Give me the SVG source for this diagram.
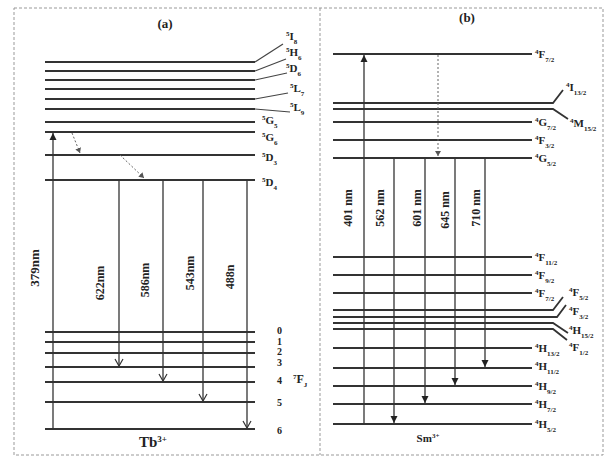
<svg xmlns="http://www.w3.org/2000/svg" width="609" height="465" viewBox="0 0 609 465">
<defs>
<style>
.lv{stroke:#333;stroke-width:1.8;fill:none}
.vt{stroke:#333;stroke-width:1.3;fill:none}
.dg{stroke:#444;stroke-width:1.2;fill:none}
.ds{stroke:#666;stroke-width:1;stroke-dasharray:2,2;fill:none}
.bd{stroke:#999;stroke-width:1;stroke-dasharray:3,2;fill:none}
text{font-family:"Liberation Serif","Times New Roman",serif;font-weight:bold;fill:#222}
.lb{font-size:11px}
.wl{font-size:12px}
.s{font-size:7px}
.num{font-size:10px}
</style>
<marker id="chev" markerWidth="10" markerHeight="10" refX="8" refY="5" orient="auto" markerUnits="userSpaceOnUse" viewBox="0 0 10 10">
<path d="M1,1 L8,5 L1,9" fill="none" stroke="#333" stroke-width="1.2"/>
</marker>
<marker id="tri" markerWidth="8" markerHeight="8" refX="7" refY="4" orient="auto" markerUnits="userSpaceOnUse" viewBox="0 0 8 8">
<path d="M0,0.5 L7,4 L0,7.5 Z" fill="#222"/>
</marker>
<marker id="trs" markerWidth="6" markerHeight="6" refX="5" refY="3" orient="auto" markerUnits="userSpaceOnUse" viewBox="0 0 6 6">
<path d="M0,0 L5,3 L0,6 Z" fill="#555"/>
</marker>
</defs>
<rect x="0" y="0" width="609" height="465" fill="#fff"/>
<g id="frame">
<rect class="bd" x="14" y="8" width="589" height="447"/>
<line class="bd" x1="320" y1="8" x2="320" y2="455"/>
</g>
<g id="panel-a">
<text x="165" y="28" font-size="13" text-anchor="middle">(a)</text>
<g id="tb-levels">
<line class="lv" x1="45" y1="62" x2="255" y2="62"/>
<line class="lv" x1="45" y1="71" x2="255" y2="71"/>
<line class="lv" x1="45" y1="80" x2="255" y2="80"/>
<line class="lv" x1="45" y1="89" x2="255" y2="89"/>
<line class="lv" x1="45" y1="99" x2="255" y2="99"/>
<line class="lv" x1="45" y1="109" x2="255" y2="109"/>
<line class="lv" x1="45" y1="122" x2="255" y2="122"/>
<line class="lv" x1="45" y1="132" x2="255" y2="132"/>
<line class="lv" x1="45" y1="155" x2="255" y2="155"/>
<line class="lv" x1="45" y1="180" x2="255" y2="180"/>
<line class="lv" x1="45" y1="332" x2="255" y2="332"/>
<line class="lv" x1="45" y1="342" x2="255" y2="342"/>
<line class="lv" x1="45" y1="353" x2="255" y2="353"/>
<line class="lv" x1="45" y1="367" x2="255" y2="367"/>
<line class="lv" x1="45" y1="382" x2="255" y2="382"/>
<line class="lv" x1="45" y1="402" x2="255" y2="402"/>
<line class="lv" x1="45" y1="429" x2="255" y2="429"/>
</g>
<g id="tb-leaders">
<line class="dg" x1="255" y1="62" x2="283" y2="44"/>
<line class="dg" x1="255" y1="71" x2="286" y2="59"/>
<line class="dg" x1="255" y1="80" x2="287" y2="73"/>
<line class="dg" x1="255" y1="99" x2="288" y2="93"/>
<line class="dg" x1="255" y1="109" x2="290" y2="112"/>
</g>
<g id="tb-labels" class="lb">
<text x="286" y="40"><tspan class="s" baseline-shift="super">5</tspan>I<tspan class="s" baseline-shift="sub">8</tspan></text>
<text x="286" y="56"><tspan class="s" baseline-shift="super">5</tspan>H<tspan class="s" baseline-shift="sub">6</tspan></text>
<text x="286" y="72"><tspan class="s" baseline-shift="super">5</tspan>D<tspan class="s" baseline-shift="sub">6</tspan></text>
<text x="290" y="92"><tspan class="s" baseline-shift="super">5</tspan>L<tspan class="s" baseline-shift="sub">7</tspan></text>
<text x="290" y="111"><tspan class="s" baseline-shift="super">5</tspan>L<tspan class="s" baseline-shift="sub">9</tspan></text>
<text x="262" y="124"><tspan class="s" baseline-shift="super">5</tspan>G<tspan class="s" baseline-shift="sub">5</tspan></text>
<text x="262" y="141"><tspan class="s" baseline-shift="super">5</tspan>G<tspan class="s" baseline-shift="sub">6</tspan></text>
<text x="262" y="161"><tspan class="s" baseline-shift="super">5</tspan>D<tspan class="s" baseline-shift="sub">3</tspan></text>
<text x="262" y="186"><tspan class="s" baseline-shift="super">5</tspan>D<tspan class="s" baseline-shift="sub">4</tspan></text>
<text class="num" x="277" y="334">0</text>
<text class="num" x="277" y="345">1</text>
<text class="num" x="277" y="355">2</text>
<text class="num" x="277" y="366">3</text>
<text class="num" x="277" y="384">4</text>
<text class="num" x="277" y="406">5</text>
<text class="num" x="277" y="434">6</text>
<text x="293" y="383" font-size="12"><tspan class="s" baseline-shift="super">7</tspan>F<tspan class="s" baseline-shift="sub">J</tspan></text>
<text x="153" y="447" font-size="15" text-anchor="middle">Tb<tspan font-size="9" baseline-shift="super">3+</tspan></text>
</g>
</g>
<g id="panel-b">
<text x="467" y="22" font-size="13" text-anchor="middle">(b)</text>
<g id="sm-levels">
<line class="lv" x1="333" y1="54" x2="532" y2="54"/>
<polyline class="lv" points="333,103 553,103 563,90"/>
<polyline class="lv" points="333,109 553,109 568,119"/>
<line class="lv" x1="333" y1="122" x2="532" y2="122"/>
<line class="lv" x1="333" y1="140" x2="532" y2="140"/>
<line class="lv" x1="333" y1="158" x2="532" y2="158"/>
<line class="lv" x1="333" y1="257" x2="532" y2="257"/>
<line class="lv" x1="333" y1="275" x2="532" y2="275"/>
<line class="lv" x1="333" y1="293" x2="532" y2="293"/>
<polyline class="lv" points="333,310 553,310 563,297"/>
<polyline class="lv" points="333,317 557,317 566,305"/>
<polyline class="lv" points="333,323 553,323 568,333"/>
<polyline class="lv" points="333,329 553,329 567,340"/>
<line class="lv" x1="333" y1="348" x2="532" y2="348"/>
<line class="lv" x1="333" y1="368" x2="532" y2="368"/>
<line class="lv" x1="333" y1="386" x2="532" y2="386"/>
<line class="lv" x1="333" y1="404" x2="532" y2="404"/>
<line class="lv" x1="333" y1="424" x2="532" y2="424"/>
</g>
<g id="sm-labels" class="lb">
<text x="535" y="58"><tspan class="s" baseline-shift="super">4</tspan>F<tspan class="s" baseline-shift="sub">7/2</tspan></text>
<text x="566" y="91"><tspan class="s" baseline-shift="super">4</tspan>I<tspan class="s" baseline-shift="sub">13/2</tspan></text>
<text x="570" y="127"><tspan class="s" baseline-shift="super">4</tspan>M<tspan class="s" baseline-shift="sub">15/2</tspan></text>
<text x="535" y="126"><tspan class="s" baseline-shift="super">4</tspan>G<tspan class="s" baseline-shift="sub">7/2</tspan></text>
<text x="535" y="144"><tspan class="s" baseline-shift="super">4</tspan>F<tspan class="s" baseline-shift="sub">3/2</tspan></text>
<text x="535" y="162"><tspan class="s" baseline-shift="super">4</tspan>G<tspan class="s" baseline-shift="sub">5/2</tspan></text>
<text x="535" y="261"><tspan class="s" baseline-shift="super">4</tspan>F<tspan class="s" baseline-shift="sub">11/2</tspan></text>
<text x="535" y="279"><tspan class="s" baseline-shift="super">4</tspan>F<tspan class="s" baseline-shift="sub">9/2</tspan></text>
<text x="535" y="297"><tspan class="s" baseline-shift="super">4</tspan>F<tspan class="s" baseline-shift="sub">7/2</tspan></text>
<text x="569" y="296"><tspan class="s" baseline-shift="super">4</tspan>F<tspan class="s" baseline-shift="sub">5/2</tspan></text>
<text x="569" y="315"><tspan class="s" baseline-shift="super">4</tspan>F<tspan class="s" baseline-shift="sub">3/2</tspan></text>
<text x="569" y="334"><tspan class="s" baseline-shift="super">4</tspan>H<tspan class="s" baseline-shift="sub">15/2</tspan></text>
<text x="569" y="351"><tspan class="s" baseline-shift="super">4</tspan>F<tspan class="s" baseline-shift="sub">1/2</tspan></text>
<text x="535" y="352"><tspan class="s" baseline-shift="super">4</tspan>H<tspan class="s" baseline-shift="sub">13/2</tspan></text>
<text x="535" y="370"><tspan class="s" baseline-shift="super">4</tspan>H<tspan class="s" baseline-shift="sub">11/2</tspan></text>
<text x="535" y="390"><tspan class="s" baseline-shift="super">4</tspan>H<tspan class="s" baseline-shift="sub">9/2</tspan></text>
<text x="535" y="408"><tspan class="s" baseline-shift="super">4</tspan>H<tspan class="s" baseline-shift="sub">7/2</tspan></text>
<text x="535" y="428"><tspan class="s" baseline-shift="super">4</tspan>H<tspan class="s" baseline-shift="sub">5/2</tspan></text>
<text x="428" y="442" font-size="11" text-anchor="middle">Sm<tspan font-size="7" baseline-shift="super">3+</tspan></text>
</g>
</g>
<g id="connectors">
<line class="vt" x1="53" y1="429" x2="53" y2="133" marker-end="url(#tri)"/>
<line class="ds" x1="72" y1="133" x2="80" y2="153" marker-end="url(#trs)"/>
<line class="ds" x1="120" y1="155" x2="144" y2="178" marker-end="url(#trs)"/>
<line class="vt" x1="119" y1="180" x2="119" y2="366" marker-end="url(#chev)"/>
<line class="vt" x1="163" y1="180" x2="163" y2="381" marker-end="url(#chev)"/>
<line class="vt" x1="203" y1="180" x2="203" y2="401" marker-end="url(#chev)"/>
<line class="vt" x1="247" y1="180" x2="247" y2="428" marker-end="url(#chev)"/>
<line class="vt" x1="364" y1="424" x2="364" y2="55" marker-end="url(#tri)"/>
<line class="ds" x1="438" y1="55" x2="438" y2="156" marker-end="url(#trs)"/>
<line class="vt" x1="394" y1="158" x2="394" y2="423" marker-end="url(#tri)"/>
<line class="vt" x1="425" y1="158" x2="425" y2="403" marker-end="url(#tri)"/>
<line class="vt" x1="455" y1="158" x2="455" y2="385" marker-end="url(#tri)"/>
<line class="vt" x1="485" y1="158" x2="485" y2="367" marker-end="url(#tri)"/>
</g>
<g id="wavelengths" class="wl">
<text transform="translate(39,268) rotate(-90)" text-anchor="middle" font-size="13">379nm</text>
<text transform="translate(104,283) rotate(-90)" text-anchor="middle">622nm</text>
<text transform="translate(149,280) rotate(-90)" text-anchor="middle">586nm</text>
<text transform="translate(194,273) rotate(-90)" text-anchor="middle">543nm</text>
<text transform="translate(234,277) rotate(-90)" text-anchor="middle">488n</text>
<text transform="translate(352,208) rotate(-90)" text-anchor="middle">401 nm</text>
<text transform="translate(384,208) rotate(-90)" text-anchor="middle">562 nm</text>
<text transform="translate(421,208) rotate(-90)" text-anchor="middle">601 nm</text>
<text transform="translate(449,210) rotate(-90)" text-anchor="middle">645 nm</text>
<text transform="translate(480,208) rotate(-90)" text-anchor="middle">710 nm</text>
</g>
</svg>
